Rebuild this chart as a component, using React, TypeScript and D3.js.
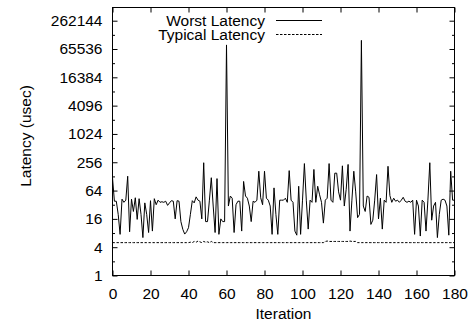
import { useRef, useEffect } from 'react';
import * as d3 from 'd3';

// worst-case latency per iteration (usec)
const worstLatency = [
  120, 38, 38, 20, 7.5, 42, 36, 40, 129, 8.5,
  42, 23, 45, 15.6, 43, 20, 6.4, 35, 20, 8.2,
  39, 8.8, 43, 32, 40, 36, 37, 36, 38, 31,
  35, 39, 38, 16, 39, 38, 14, 9.6, 7.6, 8.5,
  10.4, 20, 39, 35, 47, 40, 38, 16, 250, 14,
  14, 40, 120, 30, 8.2, 115, 7.5, 16, 14, 14,
  80000, 30, 49, 44, 8.2, 32, 38, 38, 8.8, 100,
  49, 44, 30, 14, 38, 36, 40, 165, 45, 32,
  165, 44, 40, 30, 7.5, 73, 20, 7.5, 40, 40,
  40, 44, 36, 170, 40, 36, 8.8, 7.2, 79, 7.5,
  40, 240, 40, 9.7, 40, 36, 180, 36, 79, 52,
  36, 13, 40, 44, 240, 40, 36, 150, 150, 60,
  40, 215, 30, 68, 230, 8.8, 40, 165, 60, 17,
  20, 100000, 30, 23, 49, 46, 12.2, 15, 40, 140,
  16, 44, 9.7, 40, 36, 210, 50, 36, 44, 38,
  40, 36, 40, 46, 38, 36, 38, 36, 40, 7.5,
  40, 30, 6.9, 40, 36, 8.8, 40, 250, 15, 30,
  36, 6.4, 20, 40, 42, 40, 30, 7.2, 165, 40, 40,
];

// typical latency per iteration (usec)
const typicalLatency = [
  5, 5, 5, 5, 5, 5, 5, 5, 5, 5,
  5, 5, 5, 5, 5, 5, 5, 5, 5, 5,
  5, 5, 5, 5, 5, 5, 5, 5, 5, 5,
  5, 5, 5, 5, 5, 5, 5, 5, 5, 5,
  5, 5.1, 5, 5.3, 5.1, 5.4, 5.2, 5, 5.3, 5.1,
  5.2, 5, 5.3, 5, 5, 5, 5, 5, 5, 5,
  5, 5, 5, 5, 5, 5, 5, 5, 5, 5,
  5, 5, 5, 5, 5, 5, 5, 5, 5, 5,
  5, 5, 5, 5, 5, 5, 5, 5, 5, 5,
  5, 5, 5, 5, 5, 5, 5, 5, 5, 5,
  5, 5, 5, 5, 5, 5, 5, 5, 5, 5,
  5, 5, 5.3, 5.4, 5.3, 5.3, 5.3, 5.3, 5.3, 5.3,
  5.3, 5.3, 5.3, 5.3, 5.3, 5.4, 5.3, 5.3, 5.3, 5,
  5, 5, 5, 5, 5, 5, 5, 5, 5, 5,
  5, 5, 5, 5, 5, 5, 5, 5, 5, 5,
  5, 5, 5, 5, 5, 5, 5, 5, 5, 5,
  5, 5, 5, 5, 5, 5, 5, 5, 5, 5,
  5, 5, 5, 5, 5, 5, 5, 5, 5, 5, 5,
];

const xTicks = [0, 20, 40, 60, 80, 100, 120, 140, 160, 180];
const yTicks = [1, 4, 16, 64, 256, 1024, 4096, 16384, 65536, 262144];
const yMinorTicks = [2, 8, 32, 128, 512, 2048, 8192, 32768, 131072];
const seriesNames = ['Worst Latency', 'Typical Latency'];

const FONT = '"Liberation Sans", Arial, Helvetica, sans-serif';
const FONT_SIZE = '15.5px';

export default function App() {
  const svgRef = useRef<SVGSVGElement>(null);

  useEffect(() => {
    if (!svgRef.current) return;
    const svg = d3.select(svgRef.current);
    svg.selectAll('*').remove();

    const width = 471;
    const height = 324;
    const margin = { top: 7.5, right: 16.5, bottom: 48.5, left: 112.5 };
    const x0 = margin.left;
    const x1 = width - margin.right;
    const y0 = height - margin.bottom;
    const y1 = margin.top;

    const xScale = d3.scaleLinear().domain([0, 180]).range([x0, x1]);
    const yScale = d3.scaleLog().base(2).domain([1, 500000]).range([y0, y1]);

    const styleAxis = (g: any, hideText: boolean) => {
      g.select('.domain').remove();
      g.selectAll('line').attr('stroke', '#000');
      g.selectAll('text')
        .attr('fill', '#000')
        .style('font-family', FONT)
        .style('font-size', FONT_SIZE);
      if (hideText) g.selectAll('text').remove();
    };

    // bottom / top x axes (inward ticks)
    svg.append('g')
      .attr('transform', `translate(0,${y0})`)
      .call(d3.axisBottom(xScale).tickValues(xTicks).tickSize(-5).tickPadding(12).tickFormat(d3.format('d')) as any)
      .call((g: any) => styleAxis(g, false));
    svg.append('g')
      .attr('transform', `translate(0,${y1})`)
      .call(d3.axisTop(xScale).tickValues(xTicks).tickSize(-5) as any)
      .call((g: any) => styleAxis(g, true));

    // left / right y axes, major + minor
    svg.append('g')
      .attr('transform', `translate(${x0},0)`)
      .call(d3.axisLeft(yScale).tickValues(yTicks).tickSize(-5).tickPadding(10).tickFormat(d3.format('d')) as any)
      .call((g: any) => styleAxis(g, false));
    svg.append('g')
      .attr('transform', `translate(${x0},0)`)
      .call(d3.axisLeft(yScale).tickValues(yMinorTicks).tickSize(-2.5) as any)
      .call((g: any) => styleAxis(g, true));
    svg.append('g')
      .attr('transform', `translate(${x1},0)`)
      .call(d3.axisRight(yScale).tickValues(yTicks).tickSize(-5) as any)
      .call((g: any) => styleAxis(g, true));
    svg.append('g')
      .attr('transform', `translate(${x1},0)`)
      .call(d3.axisRight(yScale).tickValues(yMinorTicks).tickSize(-2.5) as any)
      .call((g: any) => styleAxis(g, true));

    // series
    const line = d3.line<number>()
      .x((_, i) => xScale(i))
      .y((d) => yScale(d));

    svg.append('path')
      .datum(typicalLatency)
      .attr('d', line)
      .attr('fill', 'none')
      .attr('stroke', '#000')
      .attr('stroke-width', 1)
      .attr('stroke-dasharray', '2.5,1.5');

    svg.append('path')
      .datum(worstLatency)
      .attr('d', line)
      .attr('fill', 'none')
      .attr('stroke', '#000')
      .attr('stroke-width', 1);

    // frame
    svg.append('rect')
      .attr('x', x0).attr('y', y1)
      .attr('width', x1 - x0).attr('height', y0 - y1)
      .attr('fill', 'none').attr('stroke', '#000').attr('stroke-width', 1);

    // legend
    const legend = svg.append('g');
    seriesNames.forEach((name, i) => {
      const ly = 20.5 + i * 14;
      legend.append('text')
        .attr('x', 265).attr('y', ly + 5.5)
        .attr('text-anchor', 'end')
        .style('font-family', FONT).style('font-size', FONT_SIZE)
        .text(name);
      legend.append('line')
        .attr('x1', 276).attr('x2', 322)
        .attr('y1', ly).attr('y2', ly)
        .attr('stroke', '#000').attr('stroke-width', 1)
        .attr('stroke-dasharray', i === 1 ? '2.5,1.5' : null);
    });

    // axis labels
    svg.append('text')
      .attr('x', (x0 + x1) / 2).attr('y', 319)
      .attr('text-anchor', 'middle')
      .style('font-family', FONT).style('font-size', FONT_SIZE)
      .text('Iteration');

    svg.append('text')
      .attr('transform', `translate(31, 136) rotate(-90)`)
      .attr('text-anchor', 'middle')
      .style('font-family', FONT).style('font-size', FONT_SIZE)
      .text('Latency (usec)');
  }, []);

  return (
    <svg
      ref={svgRef}
      width={471}
      height={324}
      style={{ position: 'absolute', left: 0, top: 0, background: '#fff' }}
    />
  );
}
